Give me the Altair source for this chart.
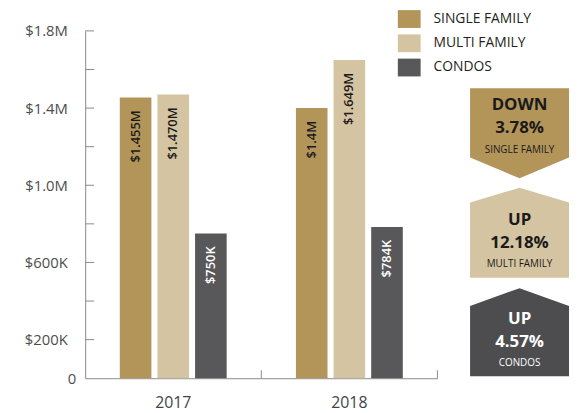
import altair as alt
import pandas as pd

FONT = "Open Sans"

years = ["2017", "2018"]
types = ["SINGLE FAMILY", "MULTI FAMILY", "CONDOS"]
vals_2017 = [1455000, 1470000, 750000]
vals_2018 = [1400000, 1649000, 784000]
labels_2017 = ["$1.455M", "$1.470M", "$750K"]
labels_2018 = ["$1.4M", "$1.649M", "$784K"]
y_label_values = [0, 200000, 600000, 1000000, 1400000, 1800000]
y_tick_values = [200000, 400000, 600000, 800000, 1000000, 1200000, 1400000, 1600000, 1800000]
badge_dirs = ["DOWN", "UP", "UP"]
badge_pcts = ["3.78%", "12.18%", "4.57%"]
bar_colors = ["#B3955A", "#D5C4A1", "#58585A"]
badge_colors = ["#B3955A", "#D5C4A1", "#4D4D4F"]
AXIS_COLOR = "#8a8a8a"

rows = []
for yr, vals, labs in [("2017", vals_2017, labels_2017), ("2018", vals_2018, labels_2018)]:
    for t, v, l in zip(types, vals, labs):
        rows.append({"year": yr, "type": t, "value": v, "label": l})
bars_df = pd.DataFrame(rows)
ticks_df = pd.DataFrame({"value": y_tick_values})
years_df = pd.DataFrame({"year": years})
badge_df = pd.DataFrame({"cat": types, "dir": badge_dirs, "pct": badge_pcts})

W, H = 356, 351

y_scale = alt.Scale(domain=[0, 1800000], nice=False)
label_expr = ("datum.value == 0 ? '0' : (datum.value < 1000000 ? '$' + format(datum.value / 1000, 'd') + 'K'"
              " : '$' + format(datum.value / 1000000, '.1f') + 'M')")
y_axis = alt.Axis(title=None, values=y_label_values, labelExpr=label_expr, ticks=False, tickSize=0,
                  grid=False, domainColor=AXIS_COLOR, labelFontSize=15, labelColor="#4d4d4d",
                  labelFont=FONT, labelPadding=18,
                  labelAlign={"condition": {"test": "datum.value == 0", "value": "left"}, "value": "right"})
x_axis = alt.Axis(title=None, labelAngle=0, ticks=False, tickSize=0, domainColor=AXIS_COLOR,
                  labelFontSize=16, labelColor="#444444", labelFont=FONT, labelPadding=17)

x_enc = alt.X("year:N", scale=alt.Scale(domain=years, paddingInner=0, paddingOuter=0), axis=x_axis)
xo_enc = alt.XOffset("type:N", scale=alt.Scale(domain=types, paddingInner=0.16, paddingOuter=0.92))
y_enc = alt.Y("value:Q", scale=y_scale, axis=y_axis)

sym_path = "M-1.28,-1L1.28,-1L1.28,1L-1.28,1Z"

bars = alt.Chart(bars_df).mark_bar().encode(
    x=x_enc,
    xOffset=xo_enc,
    y=y_enc,
    color=alt.Color("type:N", scale=alt.Scale(domain=types, range=bar_colors),
                    legend=alt.Legend(orient="none", legendX=318.5, legendY=-21, title=None,
                                      symbolType=sym_path, symbolSize=324, symbolStrokeWidth=0,
                                      symbolOpacity=1, labelFontSize=14, labelFont=FONT,
                                      labelColor="#231f20", rowPadding=6.5, labelOffset=15.5,
                                      padding=0)),
)

bar_labels = alt.Chart(bars_df).mark_text(angle=270, align="right", baseline="middle", dx=-13,
                                          fontSize=13, font=FONT, fontWeight=600).encode(
    x=x_enc,
    xOffset=xo_enc,
    y=y_enc,
    text="label:N",
    color=alt.condition("datum.type == 'CONDOS'", alt.value("white"), alt.value("#1a1a1a")),
)

y_ticks = alt.Chart(ticks_df).mark_rule(color=AXIS_COLOR).encode(
    y=y_enc,
    x=alt.value(0), x2=alt.value(9),
)

x_ticks = alt.Chart(years_df).mark_rule(color=AXIS_COLOR).encode(
    x=alt.X("year:N", bandPosition=1, scale=alt.Scale(domain=years, paddingInner=0, paddingOuter=0),
            axis=x_axis),
    y=alt.value(H), y2=alt.value(H - 8),
)

main = alt.layer(bars, bar_labels, y_ticks, x_ticks)

# badges
path_down = "M-1,-0.91L1,-0.91L1,0.49L0,0.91L-1,0.49Z"
path_up2 = "M0,-0.91L1,-0.61L1,0.91L-1,0.91L-1,-0.61Z"
path_up3 = "M0,-0.89L1,-0.53L1,0.89L-1,0.89L-1,-0.53Z"
BX = 439
y_badge = alt.Y("cat:N", scale=alt.Scale(type="point", domain=types, range=[103.5, 304.5], padding=0),
                axis=None)

badge_shapes = alt.Chart(badge_df).mark_point(filled=True, opacity=1, size=10000, strokeWidth=0).encode(
    x=alt.value(BX),
    y=y_badge,
    shape=alt.Shape("cat:N", scale=alt.Scale(domain=types, range=[path_down, path_up2, path_up3]), legend=None),
    color=alt.Color("cat:N", scale=alt.Scale(domain=types, range=badge_colors), legend=None),
)

text_layers = []
for field, size, weight, dy_down, dy_up in [("dir", 17, "bold", -28.5, -13),
                                            ("pct", 17, "bold", -5.5, 10),
                                            ("cat", 10, "normal", 16.5, 31.5)]:
    for d, dy in [("DOWN", dy_down), ("UP", dy_up)]:
        text_layers.append(
            alt.Chart(badge_df).transform_filter(alt.datum.dir == d).mark_text(
                fontSize=size, fontWeight=weight, font=FONT, dy=dy, align="center", baseline="middle"
            ).encode(
                x=alt.value(BX),
                y=y_badge,
                text=f"{field}:N",
                color=alt.condition("datum.cat == 'CONDOS'", alt.value("white"), alt.value("#1a1a1a")),
            )
        )

badges = alt.layer(badge_shapes, *text_layers)

chart = alt.layer(main, badges).resolve_scale(
    y="independent", color="independent"
).properties(
    width=W, height=H,
    autosize=alt.AutoSizeParams(type="none"),
    padding={"left": 78, "top": 21, "right": 135, "bottom": 33},
).configure_view(stroke=None)

chart.save("out.html", embed_options={"renderer": "svg", "actions": False})
